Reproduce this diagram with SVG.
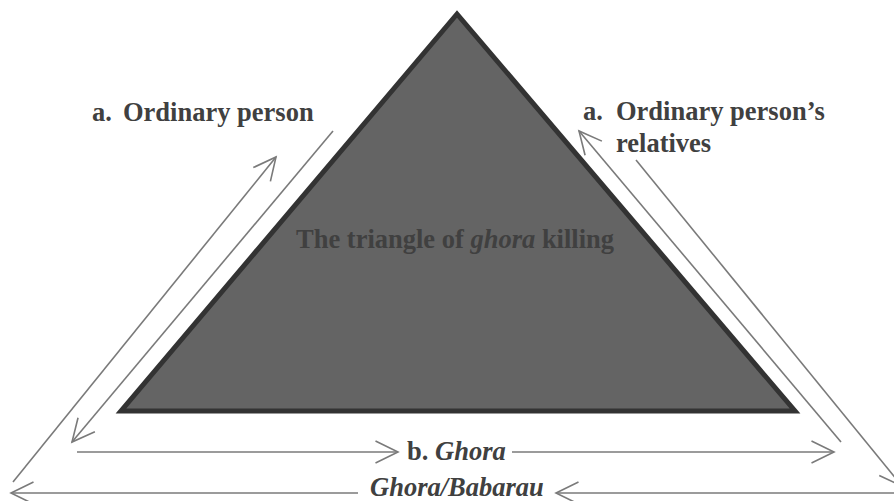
<svg xmlns="http://www.w3.org/2000/svg" width="894" height="501" viewBox="0 0 894 501">
<style>
.lbl{font-family:"Liberation Serif","Times New Roman",serif;font-weight:bold;font-size:26.5px;fill:#404040}
.it{font-style:italic}
.ln{stroke:#7a7a7a;stroke-width:1.6;fill:none}
</style>
<defs>
<marker id="ah" markerUnits="userSpaceOnUse" markerWidth="40" markerHeight="40" viewBox="-30 -20 40 40" refX="0" refY="0" orient="auto" overflow="visible">
<path d="M-22.5,-11 L0,0 L-22.5,11" fill="none" stroke="#7a7a7a" stroke-width="1.6"/>
</marker>
</defs>
<rect width="894" height="501" fill="#ffffff"/>
<g id="triangle">
<polygon points="457,14 795,411 121,411" fill="#646464" stroke="#333333" stroke-width="5" stroke-linejoin="miter"/>
<text class="lbl" x="296" y="248" fill="#3c3c3c">The triangle of <tspan class="it">ghora</tspan> killing</text>
</g>
<g id="ordinary-person">
<text class="lbl" x="92" y="121">a.</text>
<text class="lbl" x="123" y="121">Ordinary person</text>
</g>
<g id="relatives">
<text class="lbl" x="583" y="120">a.</text>
<text class="lbl" x="616" y="120">Ordinary person’s</text>
<text class="lbl" x="616" y="152">relatives</text>
</g>
<g id="ghora">
<text class="lbl" x="407" y="460">b. <tspan class="it">Ghora</tspan></text>
</g>
<g id="ghora-babarau">
<text class="lbl it" x="370" y="496">Ghora/Babarau</text>
</g>
<g id="connectors">
<line class="ln" x1="13" y1="482" x2="276" y2="157" marker-end="url(#ah)"/>
<line class="ln" x1="333" y1="131" x2="72" y2="442" marker-end="url(#ah)"/>
<line class="ln" x1="841" y1="442" x2="579" y2="131" marker-end="url(#ah)"/>
<line class="ln" x1="636" y1="160" x2="902" y2="486" marker-end="url(#ah)"/>
<line class="ln" x1="77" y1="452" x2="398" y2="452" marker-end="url(#ah)"/>
<line class="ln" x1="512" y1="452" x2="834" y2="452" marker-end="url(#ah)"/>
<line class="ln" x1="358" y1="493" x2="11" y2="493" marker-end="url(#ah)"/>
<line class="ln" x1="900" y1="493" x2="556" y2="493" marker-end="url(#ah)"/>
</g>
</svg>
